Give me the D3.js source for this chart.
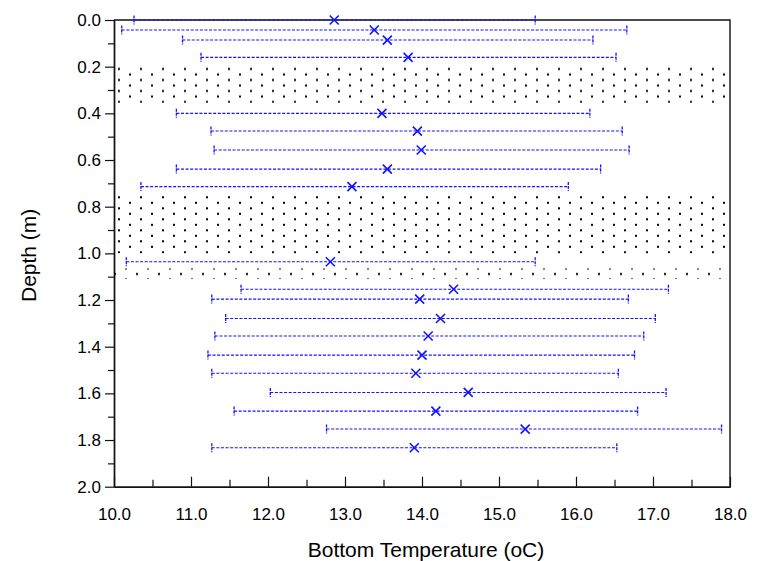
<!DOCTYPE html>
<html>
<head>
<meta charset="utf-8">
<script src="https://cdn.jsdelivr.net/npm/d3@7"></script>
<style>
  html, body { margin: 0; padding: 0; background: #fff; }
  svg { display: block; font-family: "Liberation Sans", Arial, sans-serif; }
</style>
</head>
<body>
<svg id="chart" width="760" height="561"></svg>
<script>
// ---- data ----
const depths = [0.0, 0.043, 0.086, 0.16, 0.4, 0.476, 0.557, 0.639, 0.714, 1.036,
                1.154, 1.196, 1.279, 1.354, 1.436, 1.514, 1.596, 1.676, 1.753, 1.833];
const means  = [12.86, 13.38, 13.55, 13.82, 13.48, 13.94, 13.99, 13.55, 13.09, 12.81,
                14.41, 13.97, 14.24, 14.08, 14.00, 13.92, 14.60, 14.18, 15.34, 13.90];
const lows   = [10.26, 10.10, 10.89, 11.13, 10.81, 11.26, 11.30, 10.81, 10.35, 10.16,
                11.65, 11.27, 11.45, 11.31, 11.22, 11.27, 12.03, 11.56, 12.76, 11.27];
const highs  = [15.47, 16.66, 16.22, 16.52, 16.18, 16.60, 16.69, 16.32, 15.90, 15.47,
                17.20, 16.68, 17.03, 16.88, 16.76, 16.55, 17.17, 16.80, 17.89, 16.53];
// shaded (dotted) depth bands [top, bottom]
const bandTops    = [0.2, 0.75, 1.065];
const bandBottoms = [0.355, 1.0, 1.11];
const xTickValues = [10, 11, 12, 13, 14, 15, 16, 17, 18];
const yTickValues = [0, 0.2, 0.4, 0.6, 0.8, 1.0, 1.2, 1.4, 1.6, 1.8, 2.0];
const xLabel = "Bottom Temperature (oC)";
const yLabel = "Depth (m)";

// ---- layout / style ----
const margin = {left: 114, right: 30, top: 20, bottom: 74};
const W = 760, H = 561;
const plotW = W - margin.left - margin.right;
const plotH = H - margin.top - margin.bottom - 0.3;
const blue = "#1212ff";
const axisColor = "#111";
const bandPhase = [{dx: 0, dy: 0}, {dx: 0, dy: 0}, {dx: 7, dy: -2.3}];

const svg = d3.select("#chart");
const g = svg.append("g").attr("transform", `translate(${margin.left},${margin.top})`);

const x = d3.scaleLinear().domain([10, 18]).range([0, plotW]);
const y = d3.scaleLinear().domain([0, 2]).range([0, plotH]);

// patterns
const defs = svg.append("defs");
bandTops.forEach((t, i) => {
  const p = defs.append("pattern")
    .attr("id", "dots" + i)
    .attr("patternUnits", "userSpaceOnUse")
    .attr("width", 22).attr("height", 11)
    .attr("x", bandPhase[i].dx)
    .attr("y", y(t) + bandPhase[i].dy);
  p.append("rect").attr("x", 4).attr("y", 1.3).attr("width", 2).attr("height", 2).attr("fill", "#000");
  p.append("rect").attr("x", 15).attr("y", 6.8).attr("width", 2).attr("height", 2).attr("fill", "#000");
});

g.selectAll("rect.band")
  .data(bandTops.map((t, i) => ({t, b: bandBottoms[i], i})))
  .join("rect")
  .attr("class", "band")
  .attr("x", x(10)).attr("width", x(18) - x(10))
  .attr("y", d => y(d.t)).attr("height", d => y(d.b) - y(d.t))
  .attr("fill", d => `url(#dots${d.i})`);

// axes
const yAxis = d3.axisLeft(y).tickValues(yTickValues).tickFormat(d3.format(".1f"))
  .tickSizeInner(9).tickSizeOuter(0).tickPadding(4);
const yMinor = d3.axisLeft(y).tickValues(d3.range(0.1, 2.0, 0.2)).tickFormat("")
  .tickSizeInner(6).tickSizeOuter(0);
const xAxis = d3.axisBottom(x).tickValues(xTickValues).tickFormat(d3.format(".1f"))
  .tickSizeInner(-10).tickSizeOuter(0).tickPadding(21);
const xMinor = d3.axisBottom(x).tickValues(d3.range(10.5, 18, 1)).tickFormat("")
  .tickSizeInner(-7).tickSizeOuter(0);

function styleAxis(sel) {
  sel.attr("font-size", null).attr("font-family", null);
  sel.selectAll("path.domain").attr("stroke", axisColor).attr("stroke-width", 1.4);
  sel.selectAll(".tick line").attr("stroke", axisColor).attr("stroke-width", 1.2);
  sel.selectAll(".tick text").attr("fill", "#000").style("font-size", "17px")
     .style("font-family", "Liberation Sans, Arial, sans-serif");
}
g.append("g").call(yMinor).call(styleAxis);
g.append("g").call(yAxis).call(styleAxis);
g.append("g").attr("transform", `translate(0,${plotH})`).call(xMinor).call(styleAxis);
g.append("g").attr("transform", `translate(0,${plotH})`).call(xAxis).call(styleAxis);

// frame top/right
g.append("path")
  .attr("d", `M0,0H${plotW}V${plotH}`)
  .attr("fill", "none").attr("stroke", axisColor).attr("stroke-width", 1.4);

// error bars
const rows = depths.map((d, i) => ({d, m: means[i], lo: lows[i], hi: highs[i]}));
const eb = g.append("g").selectAll("g").data(rows).join("g");
eb.append("line")
  .attr("x1", r => x(r.lo)).attr("x2", r => x(r.hi))
  .attr("y1", r => y(r.d)).attr("y2", r => y(r.d))
  .attr("stroke", blue).attr("stroke-width", 1.1).attr("stroke-dasharray", "3,1.6");
eb.append("line")
  .attr("x1", r => x(r.lo)).attr("x2", r => x(r.lo))
  .attr("y1", r => y(r.d) - 4.5).attr("y2", r => y(r.d) + 4.5)
  .attr("stroke", blue).attr("stroke-width", 1.3).attr("stroke-dasharray", "3,1");
eb.append("line")
  .attr("x1", r => x(r.hi)).attr("x2", r => x(r.hi))
  .attr("y1", r => y(r.d) - 4.5).attr("y2", r => y(r.d) + 4.5)
  .attr("stroke", blue).attr("stroke-width", 1.3).attr("stroke-dasharray", "3,1");
eb.append("path")
  .attr("d", r => {
    const cx = x(r.m), cy = y(r.d), s = 4.5;
    return `M${cx - s},${cy - s}L${cx + s},${cy + s}M${cx - s},${cy + s}L${cx + s},${cy - s}`;
  })
  .attr("stroke", blue).attr("stroke-width", 1.6).attr("fill", "none");

// axis titles
svg.append("text")
  .attr("x", margin.left + plotW / 2 + 4).attr("y", 557)
  .attr("text-anchor", "middle").style("font-size", "21px").attr("fill", "#000")
  .text(xLabel);
svg.append("text")
  .attr("transform", `translate(36,${margin.top + plotH / 2 + 2}) rotate(-90)`)
  .attr("text-anchor", "middle").style("font-size", "21px").attr("fill", "#000")
  .text(yLabel);
</script>
</body>
</html>
